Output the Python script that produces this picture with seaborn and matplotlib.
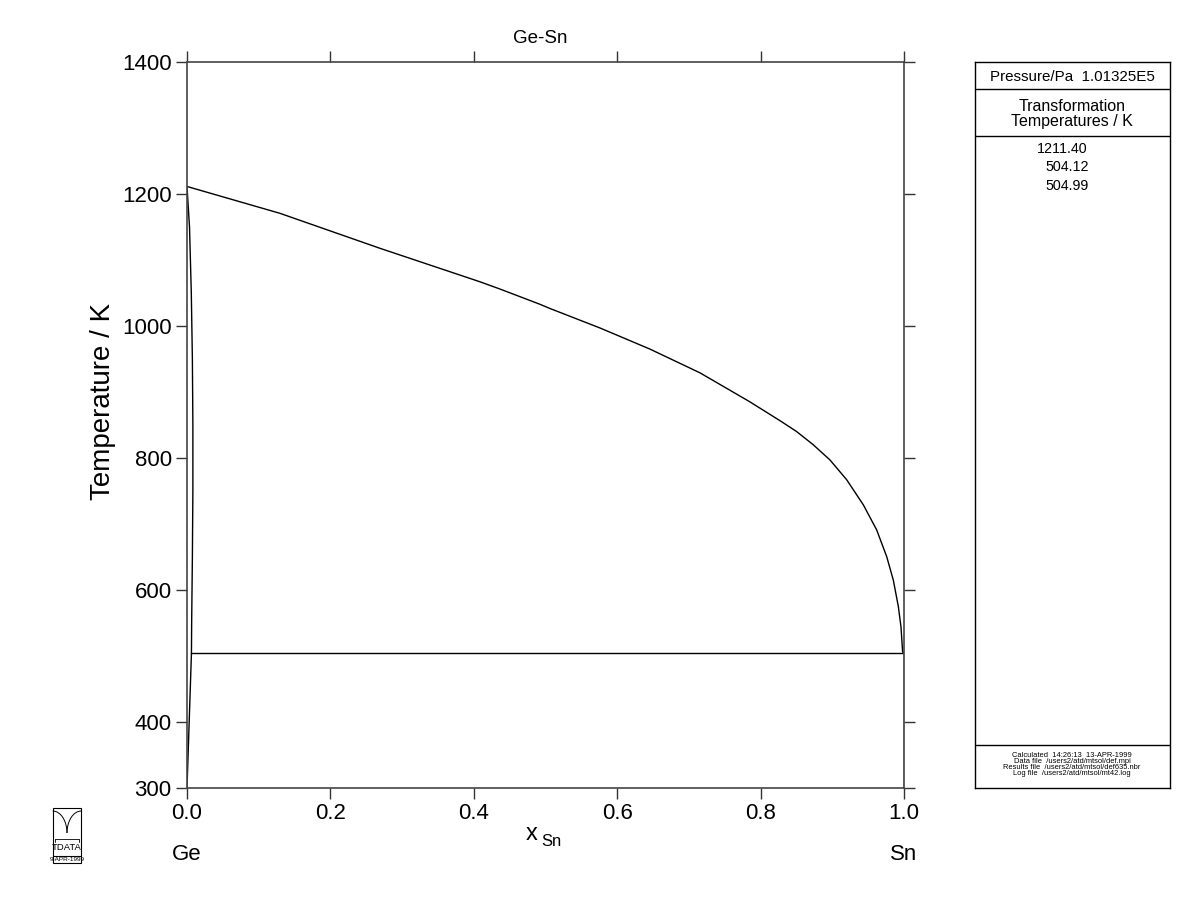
import numpy as np
import pandas as pd
import matplotlib
matplotlib.use("Agg")
import matplotlib.pyplot as plt
import seaborn as sns
from matplotlib.patches import Rectangle, Arc

sns.set_theme(style="white")
plt.rcParams['font.family'] = ['Liberation Sans', 'DejaVu Sans']
plt.rcParams['text.color'] = 'black'
plt.rcParams['axes.labelcolor'] = 'black'
plt.rcParams['xtick.color'] = 'black'
plt.rcParams['ytick.color'] = 'black'

# ---- data ----
liq_x = [0.0, 0.1297, 0.2692, 0.4086, 0.4365, 0.492, 0.5063, 0.576, 0.6457, 0.7155,
         0.7852, 0.8271, 0.8503, 0.8735, 0.8968, 0.9201, 0.9433, 0.9619, 0.9759,
         0.9851, 0.9921, 0.9958, 0.9981, 1.0]
liq_T = [1211.4, 1170.7, 1117.7, 1067, 1056, 1033, 1026.5, 997, 965, 929,
         885, 856.5, 840, 820, 797, 767, 729, 691, 650.5,
         615, 575, 544, 506, 504.99]

sol_x = [0.0, 0.0035, 0.006, 0.0075, 0.0082, 0.0082, 0.0075, 0.0065, 0.0062]
sol_T = [1211.4, 1150, 1050, 950, 850, 750, 650, 550, 504.12]

solv_x = [0.0062, 0.0]
solv_T = [504.12, 300]

eut_x = [0.0062, 1.0]
eut_T = [504.12, 504.12]

sn_x = [1.0, 1.0]
sn_T = [504.99, 300]

trans_T = ["1211.40", "504.12", "504.99"]
xticks = [0.0, 0.2, 0.4, 0.6, 0.8, 1.0]
yticks = [300, 400, 600, 800, 1000, 1200, 1400]

segments = []
for name, xs, ts in [("liquidus", liq_x, liq_T), ("solidus", sol_x, sol_T),
                     ("solvus", solv_x, solv_T), ("eutectic", eut_x, eut_T),
                     ("sn", sn_x, sn_T)]:
    segments.append(pd.DataFrame({"x": xs, "T": ts, "seg": name}))
df = pd.concat(segments, ignore_index=True)

fig = plt.figure(figsize=(12, 9.23), dpi=100)
W, H = 1200, 923
ax = fig.add_axes([187 / W, 1 - 788 / H, (904 - 187) / W, (788 - 62) / H])

for name, g in df.groupby("seg", sort=False):
    sns.lineplot(data=g, x="x", y="T", ax=ax, sort=False, color="black",
                 linewidth=1.0, estimator=None, legend=False)

ax.set_xlim(0, 1)
ax.set_ylim(300, 1400)
ax.set_xticks(xticks)
ax.set_xticklabels([f"{v:.1f}" for v in xticks])
ax.set_yticks(yticks)
ax.set_yticklabels([str(v) for v in yticks])
ax.tick_params(axis="both", which="both", direction="out", length=8, width=1,
               color="#333333", labelsize=16, labelcolor="black", top=True, right=True,
               labeltop=False, labelright=False, bottom=True, left=True, pad=3)
for s in ax.spines.values():
    s.set_color("#444444")
    s.set_linewidth(1.2)
    s.set_visible(True)
ax.set_xlabel("")
ax.set_ylabel("")
ax.set_title("Ge-Sn", fontsize=13.5, pad=14, color="black", x=0.493)
ax.grid(False)

fig.text(103 / W, 1 - 401 / H, "Temperature / K", fontsize=20, rotation=90,
         ha="center", va="center")
fig.text(532 / W, 1 - 834 / H, "x", fontsize=17, ha="center", va="center")
fig.text(551 / W, 1 - 842 / H, "Sn", fontsize=12, ha="center", va="center")
fig.text(187 / W, 1 - 855 / H, "Ge", fontsize=16, ha="center", va="center")
fig.text(904 / W, 1 - 855 / H, "Sn", fontsize=16, ha="center", va="center")

# ---- right info panel ----
pax = fig.add_axes([975 / W, 1 - 788 / H, (1170 - 975) / W, (788 - 62) / H])
pax.set_xlim(975, 1170)
pax.set_ylim(788, 62)
pax.set_xticks([])
pax.set_yticks([])
for s in pax.spines.values():
    s.set_color("black")
    s.set_linewidth(1.0)
    s.set_visible(True)
for yy in [89.5, 136.5, 745]:
    pax.plot([975, 1170], [yy, yy], color="black", lw=1.0)
pax.text(1072, 77, "Pressure/Pa  1.01325E5", ha="center", va="center", fontsize=10.9)
pax.text(1072, 106.5, "Transformation", ha="center", va="center", fontsize=11.5)
pax.text(1072, 122, "Temperatures / K", ha="center", va="center", fontsize=11.5)
xs_vals = [1062, 1067, 1067]
for i, t in enumerate(trans_T):
    pax.text(xs_vals[i], 149 + 18.3 * i, t, ha="center", va="center", fontsize=10.3)
small = ["Calculated  14:26:13  13-APR-1999",
         "Data file  /users2/atd/mtsol/def.mpi",
         "Results file  /users2/atd/mtsol/def635.nbr",
         "Log file  /users2/atd/mtsol/mt42.log"]
for i, t in enumerate(small):
    pax.text(1072, 756 + 5.9 * i, t, ha="center", va="center", fontsize=5.4)

# ---- logo ----
lax = fig.add_axes([50 / W, 1 - 866 / H, 34 / W, 60 / H])
lax.set_xlim(50, 84)
lax.set_ylim(866, 806)
lax.axis("off")
lax.add_patch(Rectangle((52.7, 808), 28.6, 55, fill=False, lw=0.8, color="black"))
lax.plot([52.7, 81.3], [855.7, 855.7], color="black", lw=0.8)
# M-shaped arcs (elliptical quarter arcs meeting in the middle)
lax.add_patch(Arc((52.7, 833), 2 * 14.3, 2 * 22, theta1=270, theta2=360, lw=0.7, color="black"))
lax.add_patch(Arc((81.3, 833), 2 * 14.3, 2 * 22, theta1=180, theta2=270, lw=0.7, color="black"))
lax.plot([55, 79], [839.3, 839.3], color="black", lw=0.6)
lax.plot([55, 55], [839.3, 842], color="black", lw=0.6)
lax.plot([79, 79], [839.3, 842], color="black", lw=0.6)
lax.text(67, 847.5, "TDATA", ha="center", va="center", fontsize=6.8)
lax.text(67, 859.5, "9-APR-1999", ha="center", va="center", fontsize=4.6)

fig.savefig("out.png", dpi=100)
